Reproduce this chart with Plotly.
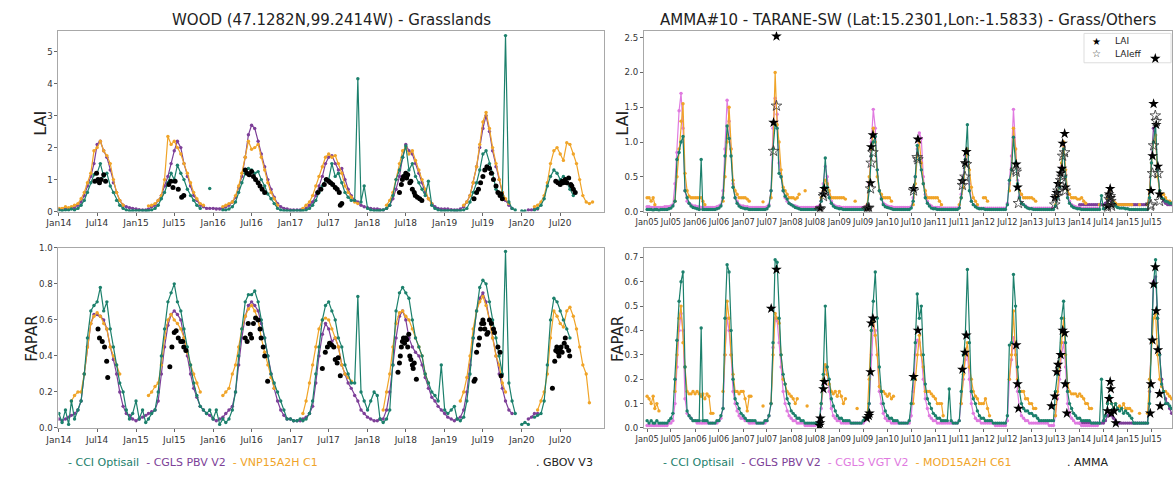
import datetime as dt
import plotly.graph_objects as go

N = None
W, H = 1174, 479
TEAL, PURPLE, ORANGE, VIOLET = '#1c806c', '#7d3f98', '#f0a428', '#e07ae0'

# ---------------- WOOD site: semi-monthly values (1st, 16th of each month) ----------------
wood_years = [2014, 2015, 2016, 2017, 2018, 2019, 2020]
wood_lai_cci = [
    [0.05,0.03,0.05,0.05,0.08,0.05,0.1,0.2,0.35,0.6,0.9,1.15,1.2,1.5,1.1,1.2,0.8,0.6,0.35,0.2,0.1,0.05,0.03,0.03],
    [0.03,0.03,0.03,0.03,0.03,0.05,0.1,0.2,0.4,0.6,0.9,1.2,1.0,1.45,1.2,1.0,0.7,0.5,0.35,0.2,0.1,N,N,0.72],
    [N,N,N,0.05,0.05,0.08,0.15,0.3,0.6,0.9,1.2,1.35,1.3,1.2,1.25,1.0,0.8,0.55,0.4,0.25,0.1,0.05,0.03,0.03],
    [0.03,0.03,0.03,0.03,0.03,0.05,0.1,0.2,0.35,0.6,0.8,1.0,1.0,1.5,1.1,1.2,0.9,0.6,0.45,0.35,0.35,4.15,0.3,0.8],
    [0.1,0.05,0.03,0.03,0.03,0.05,0.1,0.2,0.5,1.0,1.3,1.7,2.05,1.3,1.5,1.1,0.9,0.7,0.5,0.95,0.2,0.1,0.05,0.03],
    [0.03,0.03,0.03,0.03,0.03,0.03,0.05,0.1,0.3,0.6,0.9,1.3,1.8,1.9,1.5,1.2,0.7,0.6,0.5,5.5,0.3,0.1,0.05,N],
    [0.02,0.02,N,N,0.05,0.1,0.2,0.4,0.8,1.1,1.3,1.2,1.0,1.1,0.9,0.7,0.5,N,N,N,N,N,N,N],
]
wood_lai_pbv = [
    [0.08,0.08,0.08,0.1,0.1,0.12,0.2,0.3,0.5,0.8,1.1,1.5,2.1,2.2,1.9,1.7,1.3,0.9,0.6,0.35,0.2,0.15,0.12,0.1],
    [0.08,0.06,0.05,0.05,0.08,0.15,0.2,0.35,0.5,0.8,1.1,1.5,1.9,2.2,2.0,1.5,1.1,0.8,0.5,0.35,0.2,0.15,0.1,0.1],
    [0.1,0.08,0.08,0.1,0.15,0.2,0.3,0.45,0.75,1.1,1.7,2.4,2.7,2.6,2.2,1.8,1.4,1.0,0.7,0.45,0.25,0.15,0.1,0.08],
    [0.05,0.05,0.05,0.05,0.08,0.1,0.2,0.3,0.5,0.8,1.1,1.5,1.7,1.75,1.5,1.3,1.35,1.0,0.7,0.5,0.35,0.3,0.2,0.15],
    [0.12,0.1,0.08,0.08,0.06,0.05,0.1,0.2,0.4,0.7,1.1,1.7,2.1,1.9,1.8,1.5,1.2,0.9,0.6,0.4,0.25,0.15,0.1,0.08],
    [0.08,0.08,0.06,0.05,0.05,0.08,0.15,0.3,0.5,0.9,1.4,2.0,2.6,3.0,2.5,1.9,1.4,1.0,0.6,0.35,0.2,0.1,N,N],
    [N,N,0.05,0.05,0.08,0.08,N,N,N,N,N,N,N,N,N,N,N,N,N,N,N,N,N,N],
]
wood_lai_vnp = [
    [0.1,0.1,0.15,0.12,0.15,0.2,0.25,0.4,0.6,0.9,1.2,1.9,2.0,2.2,1.9,1.75,1.5,1.0,0.6,0.35,0.2,N,N,N],
    [N,N,N,N,0.18,0.2,0.25,0.35,0.5,1.0,2.35,2.1,2.2,2.0,1.8,1.5,1.2,0.9,0.6,0.4,0.25,0.2,N,N],
    [N,N,N,0.15,0.2,0.25,0.3,0.5,0.8,1.2,1.7,2.2,1.95,2.0,2.1,1.7,1.3,0.9,0.6,0.4,0.2,N,N,N],
    [N,N,N,N,0.1,0.2,0.3,0.5,0.8,1.1,1.4,1.7,1.8,1.7,1.75,1.5,1.2,0.8,0.6,0.45,0.3,0.25,N,N],
    [N,N,N,N,N,N,0.2,0.35,0.6,1.0,1.5,1.9,2.0,1.8,1.9,1.6,1.3,1.0,0.7,0.4,0.25,N,N,N],
    [N,N,N,N,N,N,0.2,0.3,0.5,0.9,1.4,2.1,2.8,3.1,2.6,2.0,1.5,1.0,0.6,0.4,0.25,N,N,N],
    [N,N,N,N,0.15,0.2,0.3,0.5,0.9,1.5,1.9,2.0,1.8,1.6,2.15,2.1,1.8,1.5,1.0,0.5,0.3,0.25,0.3,N],
]
wood_fapar_cci = [
    [0.08,0.03,0.1,0.02,0.15,0.05,0.1,0.15,0.3,0.5,0.65,0.68,0.7,0.78,0.65,0.7,0.55,0.45,0.35,0.25,0.2,0.1,0.05,0.08],
    [0.15,0.05,0.1,0.03,0.05,0.08,0.1,0.2,0.4,0.55,0.7,0.75,0.8,0.7,0.65,0.55,0.45,0.35,0.25,0.18,0.12,0.1,0.08,0.1],
    [0.05,0.1,0.02,0.05,0.03,0.05,0.1,0.2,0.4,0.55,0.7,0.74,0.74,0.76,0.7,0.6,0.5,0.4,0.3,0.25,0.2,0.15,0.1,0.05],
    [0.05,0.04,0.04,0.05,0.04,0.05,0.08,0.15,0.3,0.45,0.6,0.68,0.7,0.65,0.6,0.5,0.45,0.35,0.3,0.25,0.25,0.73,0.2,0.15],
    [0.1,0.15,0.2,0.18,0.05,0.03,0.05,0.1,0.35,0.65,0.75,0.78,0.75,0.72,0.6,0.5,0.45,0.4,0.3,0.25,0.2,0.18,0.15,0.35],
    [0.1,0.08,0.1,0.12,0.05,0.04,0.06,0.15,0.3,0.5,0.65,0.78,0.82,0.8,0.7,0.6,0.5,0.4,0.3,0.98,0.25,0.15,0.08,N],
    [0.02,0.03,0.02,N,0.06,0.07,0.08,0.15,0.35,0.6,0.72,0.7,0.65,0.6,0.55,0.5,N,N,N,N,N,N,N,N],
]
wood_fapar_pbv = [
    [0.05,0.04,0.05,0.06,0.07,0.08,0.1,0.15,0.3,0.45,0.58,0.63,0.63,0.62,0.6,0.55,0.45,0.38,0.3,0.2,0.12,0.08,0.07,0.05],
    [0.04,0.05,0.06,0.07,0.08,0.09,0.1,0.15,0.3,0.45,0.57,0.63,0.65,0.63,0.6,0.5,0.4,0.3,0.22,0.17,0.12,0.1,0.08,0.07],
    [0.05,0.04,0.05,0.06,0.08,0.1,0.12,0.2,0.35,0.5,0.62,0.68,0.7,0.68,0.65,0.58,0.5,0.4,0.3,0.22,0.15,0.1,0.07,0.05],
    [0.05,0.04,0.04,0.04,0.05,0.06,0.08,0.12,0.25,0.4,0.52,0.58,0.55,0.48,0.5,0.45,0.35,0.3,0.25,0.22,0.18,0.15,0.1,0.08],
    [0.06,0.05,0.04,0.04,0.05,0.05,0.1,0.2,0.35,0.5,0.62,0.65,0.6,0.5,0.45,0.42,0.4,0.35,0.28,0.22,0.17,0.15,0.12,0.1],
    [0.08,0.06,0.05,0.04,0.05,0.06,0.1,0.2,0.35,0.5,0.65,0.72,0.75,0.7,0.6,0.5,0.4,0.3,0.22,0.15,0.1,0.08,N,N],
    [N,N,0.05,0.06,0.08,0.08,N,N,N,N,N,N,N,N,N,N,N,N,N,N,N,N,N,N],
]
wood_fapar_vnp = [
    [N,N,N,N,0.15,0.18,0.2,0.2,0.3,0.45,0.58,0.62,0.64,0.62,0.58,0.55,0.45,0.4,0.35,0.3,N,N,N,N],
    [N,N,N,N,0.18,0.2,0.23,0.25,0.35,0.5,0.6,0.63,0.6,0.58,0.55,0.5,0.42,0.35,0.3,0.25,0.2,N,N,N],
    [N,N,N,0.18,0.2,0.22,0.3,0.35,0.45,0.55,0.62,0.66,0.68,0.65,0.6,0.5,0.42,0.35,0.28,0.22,N,N,N,N],
    [N,N,N,N,0.08,0.15,0.25,0.35,0.45,0.55,0.6,0.61,0.6,0.55,0.5,0.45,0.35,0.3,0.28,0.26,N,N,N,N],
    [N,N,N,N,N,0.1,0.2,0.3,0.45,0.58,0.64,0.65,0.62,0.6,0.55,0.5,0.45,0.4,0.3,0.25,N,N,N,N],
    [N,N,N,N,N,0.15,0.2,0.28,0.4,0.55,0.65,0.7,0.73,0.68,0.6,0.5,0.4,0.35,0.25,0.2,N,N,N,N],
    [N,N,N,N,N,0.1,0.15,0.2,0.3,0.5,0.65,0.62,0.58,0.56,0.65,0.67,0.62,0.55,0.45,0.35,0.3,0.14,N,N],
]
gbov_lai_dates = [
    '2014-06-20','2014-06-28','2014-07-05','2014-07-12','2014-07-20','2014-08-01','2014-08-10',
    '2015-06-05','2015-06-15','2015-06-25','2015-07-05','2015-07-20','2015-08-05','2015-08-15',
    '2016-06-01','2016-06-10','2016-06-20','2016-07-01','2016-07-10','2016-07-20','2016-08-01','2016-08-10','2016-08-20','2016-09-01',
    '2017-05-10','2017-05-25','2017-06-10','2017-06-20','2017-07-01','2017-07-10','2017-07-20','2017-08-01','2017-08-10','2017-08-20','2017-08-25','2017-09-01',
    '2018-06-01','2018-06-10','2018-06-15','2018-06-20','2018-07-01','2018-07-05','2018-07-10','2018-07-20','2018-07-25','2018-08-01','2018-08-10','2018-08-15','2018-08-25','2018-09-05','2018-09-15',
    '2019-05-20','2019-06-01','2019-06-10','2019-06-20','2019-07-01','2019-07-10','2019-07-20','2019-08-01','2019-08-10','2019-08-20','2019-09-01','2019-09-10','2019-09-20','2019-09-25','2019-10-01',
    '2020-06-10','2020-06-20','2020-07-01','2020-07-10','2020-07-15','2020-07-25','2020-08-01','2020-08-10','2020-08-20','2020-08-25','2020-09-01','2020-09-10']
gbov_lai_vals = [
    0.95,1.2,1.0,0.9,1.0,1.15,0.95,
    0.85,0.95,0.75,0.95,0.7,0.45,0.5,
    1.3,1.2,1.15,1.25,1.1,1.0,0.9,0.8,0.7,0.6,
    0.6,0.7,0.85,1.0,0.95,0.9,0.85,0.75,0.7,0.6,0.2,0.25,
    0.6,0.85,1.0,1.1,1.2,1.05,1.15,0.9,0.95,0.7,0.6,0.5,0.45,0.4,0.35,
    0.4,0.6,0.7,0.9,1.1,1.3,1.4,1.35,1.2,1.0,0.8,0.6,0.5,0.55,0.4,
    0.95,0.9,0.85,0.95,0.9,1.0,0.9,1.05,0.85,0.8,0.7,0.6]
gbov_fapar_dates = [
    '2014-07-05','2014-07-12','2014-07-25','2014-08-05','2014-08-15','2014-08-20',
    '2015-06-10','2015-06-20','2015-07-01','2015-07-10','2015-07-20','2015-08-01','2015-08-10','2015-08-15','2015-08-25',
    '2016-06-01','2016-06-10','2016-06-15','2016-06-25','2016-07-01','2016-07-10','2016-07-20','2016-08-01','2016-08-10','2016-08-15','2016-08-25','2016-09-01','2016-09-15',
    '2017-06-01','2017-06-15','2017-06-25','2017-07-05','2017-07-15','2017-07-25','2017-08-01','2017-08-10','2017-08-15','2017-08-25',
    '2018-05-25','2018-06-01','2018-06-05','2018-06-10','2018-06-15','2018-06-20','2018-06-25','2018-07-01','2018-07-05','2018-07-10','2018-07-15','2018-07-20','2018-07-25','2018-08-01','2018-08-05','2018-08-10','2018-08-20',
    '2019-05-20','2019-05-25','2019-06-01','2019-06-10','2019-06-15','2019-06-20','2019-06-25','2019-07-01','2019-07-05','2019-07-10','2019-07-20','2019-07-25','2019-08-01','2019-08-10','2019-08-20','2019-08-25','2019-09-10','2019-09-20','2019-09-25',
    '2020-05-25','2020-06-05','2020-06-10','2020-06-15','2020-06-20','2020-06-25','2020-07-01','2020-07-05','2020-07-10','2020-07-20','2020-07-25','2020-08-01','2020-08-10','2020-08-15']
gbov_fapar_vals = [
    0.55,0.5,0.48,0.45,0.37,0.28,
    0.34,0.45,0.53,0.54,0.5,0.48,0.48,0.45,0.43,
    0.5,0.48,0.58,0.52,0.5,0.58,0.61,0.6,0.55,0.5,0.45,0.4,0.26,
    0.33,0.42,0.45,0.47,0.46,0.45,0.38,0.36,0.39,0.29,
    0.31,0.36,0.4,0.45,0.48,0.5,0.47,0.5,0.49,0.45,0.52,0.4,0.38,0.35,0.33,0.36,0.27,
    0.26,0.27,0.42,0.46,0.5,0.55,0.58,0.6,0.58,0.55,0.52,0.53,0.6,0.58,0.55,0.53,0.45,0.42,0.29,
    0.22,0.37,0.43,0.45,0.42,0.4,0.43,0.45,0.42,0.47,0.5,0.45,0.43,0.4]

# ---------------- AMMA#10 site: semi-monthly values ----------------
amma_years = [2005, 2006, 2007, 2008, 2009, 2010, 2011, 2012, 2013, 2014, 2015]
amma_lai_cci = [
    [0.03,0.03,0.03,0.02,0.03,0.03,0.02,0.03,0.03,0.03,0.03,0.04,0.05,0.08,0.15,0.75,0.85,1.0,1.08,0.3,0.2,0.12,0.08,0.06],
    [0.05,0.04,0.03,0.75,0.03,0.03,0.03,0.03,0.03,0.03,0.03,0.04,0.05,0.08,0.2,0.8,1.23,1.05,0.8,0.35,0.2,0.12,0.08,0.06],
    [0.05,0.04,0.04,0.03,0.03,0.03,0.03,0.03,0.03,0.03,0.03,0.03,0.04,0.08,0.3,0.9,1.25,1.2,0.55,0.5,0.3,0.22,0.18,0.12],
    [0.1,0.08,0.06,0.05,0.04,0.03,0.03,0.03,0.03,0.03,0.03,0.03,0.03,0.04,0.05,0.15,0.35,0.77,0.35,0.2,0.12,0.08,0.06,0.05],
    [0.04,0.04,0.03,0.03,0.03,0.03,0.03,0.03,0.03,0.03,0.03,0.03,0.03,0.04,0.06,0.3,0.8,1.0,1.08,0.6,0.3,0.18,0.1,0.07],
    [0.06,0.05,0.04,0.03,0.03,0.03,0.03,0.03,0.03,0.03,0.03,0.03,0.05,0.15,0.5,0.95,0.75,0.6,0.4,0.2,0.12,0.08,0.05,0.04],
    [0.04,0.03,0.03,0.03,0.03,0.03,0.03,0.03,0.03,0.03,0.03,0.03,0.05,0.2,0.45,0.75,1.25,0.3,0.15,0.1,0.07,0.05,0.04,0.04],
    [0.04,0.03,0.03,0.03,0.03,0.03,0.03,0.03,0.03,0.03,0.03,0.03,0.1,0.45,0.6,1.07,0.7,0.4,0.2,0.12,0.1,0.07,0.05,0.04],
    [0.04,0.03,0.03,0.03,0.03,0.03,0.03,0.03,0.03,0.03,0.03,0.03,0.08,0.2,0.35,0.6,0.9,0.5,0.2,0.12,0.08,0.06,0.05,0.04],
    [0.04,0.03,0.03,0.03,0.03,0.03,0.03,0.03,0.03,0.03,0.03,0.23,0.04,0.05,0.1,0.25,0.2,0.12,0.08,0.06,0.05,0.05,0.05,0.04],
    [0.04,0.03,0.03,0.03,0.03,0.03,0.03,0.03,0.03,0.03,0.03,0.2,0.7,1.0,1.25,0.6,0.3,0.2,0.18,0.15,0.14,0.12,0.12,N],
]
amma_lai_vgt = [
    [0.07,0.07,0.06,0.06,0.06,0.06,0.06,0.06,0.06,0.07,0.07,0.07,0.08,0.1,0.4,0.85,1.45,1.7,1.2,0.3,0.15,0.12,0.1,0.08],
    [0.08,0.07,0.07,0.06,0.06,0.06,0.06,0.06,0.06,0.06,0.06,0.07,0.08,0.1,0.3,0.9,1.6,1.3,0.9,0.4,0.2,0.15,0.1,0.08],
    [0.08,0.07,0.07,0.06,0.06,0.06,0.06,0.06,0.06,0.06,0.06,0.06,0.07,0.1,0.3,1.2,1.63,1.4,0.7,0.5,0.3,0.2,0.15,0.12],
    [0.1,0.09,0.08,0.07,0.06,0.06,0.06,0.06,0.06,0.06,0.06,0.06,0.06,0.07,0.08,0.15,0.4,0.65,0.5,0.25,0.15,0.1,0.08,0.07],
    [0.07,0.06,0.06,0.06,0.06,0.06,0.06,0.06,0.06,0.06,0.06,0.06,0.06,0.07,0.1,0.4,1.0,1.47,1.2,0.6,0.3,0.2,0.12,0.1],
    [0.08,0.07,0.07,0.06,0.06,0.06,0.06,0.06,0.06,0.06,0.06,0.06,0.07,0.2,0.5,0.9,1.13,1.05,0.5,0.25,0.15,0.1,0.08,0.06],
    [0.06,0.06,0.06,0.05,0.05,0.05,0.05,0.05,0.05,0.05,0.05,0.05,0.06,0.25,0.5,0.8,0.9,0.4,0.15,0.1,0.08,0.06,0.05,0.05],
    [0.05,0.05,0.05,0.05,0.05,0.05,0.05,0.05,0.05,0.05,0.05,0.05,0.12,0.4,0.8,1.47,0.9,0.45,0.22,0.12,0.1,0.08,0.06,0.05],
    [0.05,0.05,0.05,0.05,0.05,0.05,0.05,0.05,0.05,0.05,0.05,0.05,0.08,0.25,0.4,0.65,0.95,0.6,0.25,0.15,0.1,0.08,0.07,0.06],
    [0.06,0.05,0.05,0.05,0.05,0.05,0.05,0.05,0.05,0.05,N,N,N,N,N,N,N,N,N,N,N,N,N,N],
    [N,N,N,N,N,N,N,N,N,N,N,N,N,N,N,N,N,N,N,N,N,N,N,N],
]
amma_lai_pbv = [
    [N]*24, [N]*24, [N]*24, [N]*24, [N]*24, [N]*24, [N]*24, [N]*24, [N]*24,
    [0.1,0.1,0.1,0.1,0.1,0.1,0.1,0.1,0.1,0.1,0.1,0.1,0.1,0.12,0.15,0.2,0.15,0.12,0.1,0.1,0.1,0.1,0.1,0.1],
    [0.1,0.1,0.1,0.1,0.1,0.1,0.1,0.1,0.1,0.1,0.1,0.3,0.8,1.2,1.1,0.6,0.3,0.2,0.15,0.12,0.1,0.1,0.1,N],
]
amma_lai_mod = [
    [0.2,0.2,0.15,0.2,0.1,N,N,N,N,N,N,N,N,N,0.15,0.5,0.9,1.3,1.55,0.55,0.3,0.22,0.2,0.2],
    [0.2,0.2,0.2,0.2,0.15,0.1,N,N,N,N,N,N,N,N,0.15,0.5,1.0,1.5,0.9,0.45,0.3,0.25,0.2,0.2],
    [0.2,0.2,0.18,0.15,N,N,N,N,N,N,0.14,N,N,N,0.2,0.9,2.0,1.25,1.0,0.6,0.35,0.3,0.25,0.2],
    [0.2,0.2,0.18,0.2,0.25,N,N,0.3,N,N,N,N,N,N,N,0.2,0.3,0.45,0.4,0.3,0.2,0.2,0.2,0.2],
    [0.2,0.2,0.2,0.18,N,N,N,N,0.15,N,N,N,N,N,0.1,0.5,0.9,1.2,1.0,0.5,0.3,0.25,0.2,0.2],
    [0.2,0.2,0.15,N,N,N,N,N,N,N,N,N,N,0.1,0.4,0.8,1.0,0.7,0.4,0.3,0.2,0.2,0.2,0.2],
    [0.2,0.2,0.15,0.1,N,N,N,N,N,N,N,N,0.1,0.2,0.35,0.7,0.9,0.6,0.35,0.2,0.15,0.1,N,N],
    [0.2,0.2,0.15,N,N,N,N,N,N,N,N,N,N,0.3,0.6,1.2,0.9,0.35,0.3,0.25,0.2,0.2,0.2,0.2],
    [0.2,0.18,0.15,N,N,N,N,N,N,N,N,N,0.1,0.25,0.4,0.7,1.0,0.6,0.3,0.25,0.2,0.2,0.2,0.18],
    [0.18,0.2,0.15,0.12,N,N,N,N,N,N,0.1,N,N,N,0.2,0.3,0.2,0.15,0.12,0.1,0.1,0.1,0.1,0.1],
    [0.1,0.1,0.1,N,N,N,0.1,N,N,N,0.1,0.3,0.7,1.0,1.1,0.5,0.3,0.25,0.25,0.2,0.15,0.15,0.12,N],
]
amma_fapar_cci = [
    [0.03,0.02,0.03,0.02,0.02,0.03,0.02,0.02,0.02,0.02,0.02,0.03,0.04,0.06,0.2,0.36,0.52,0.6,0.64,0.25,0.07,0.05,0.04,0.03],
    [0.03,0.03,0.03,0.41,0.03,0.03,0.03,0.02,0.02,0.02,0.02,0.03,0.03,0.05,0.08,0.45,0.67,0.64,0.4,0.2,0.12,0.1,0.08,0.06],
    [0.05,0.04,0.03,0.03,0.03,0.03,0.03,0.02,0.02,0.02,0.02,0.03,0.03,0.05,0.1,0.35,0.69,0.68,0.45,0.3,0.22,0.18,0.12,0.1],
    [0.07,0.06,0.05,0.04,0.04,0.03,0.03,0.02,0.02,0.02,0.02,0.02,0.02,0.02,0.03,0.1,0.22,0.5,0.25,0.2,0.12,0.09,0.07,0.05],
    [0.04,0.04,0.03,0.03,0.03,0.03,0.02,0.02,0.02,0.02,0.02,0.02,0.03,0.04,0.05,0.1,0.4,0.52,0.64,0.45,0.25,0.15,0.1,0.07],
    [0.05,0.04,0.04,0.03,0.03,0.03,0.02,0.02,0.02,0.02,0.02,0.03,0.1,0.2,0.35,0.55,0.45,0.5,0.3,0.18,0.12,0.1,0.08,0.06],
    [0.05,0.04,0.04,0.03,0.03,0.03,0.03,0.16,0.03,0.02,0.02,0.02,0.03,0.15,0.3,0.38,0.65,0.35,0.15,0.12,0.1,0.07,0.05,0.04],
    [0.04,0.03,0.03,0.03,0.03,0.02,0.02,0.02,0.02,0.02,0.02,0.02,0.05,0.34,0.35,0.63,0.5,0.25,0.15,0.1,0.08,0.07,0.07,0.06],
    [0.06,0.05,0.05,0.04,0.03,0.03,0.03,0.03,0.03,0.03,0.03,0.03,0.15,0.22,0.3,0.45,0.52,0.35,0.15,0.1,0.08,0.06,0.05,0.04],
    [0.04,0.03,0.03,0.03,0.03,0.03,0.02,0.02,0.02,0.02,0.02,0.2,0.03,0.05,0.1,0.13,0.1,0.08,0.1,0.08,0.07,0.08,0.06,0.07],
    [0.06,0.05,0.04,0.02,0.02,0.02,0.02,0.02,0.02,0.02,0.02,0.1,0.36,0.59,0.69,0.45,0.3,0.18,0.15,0.1,0.1,0.09,0.08,N],
]
amma_fapar_vgt = [
    [0.01,0.01,0.01,0.01,0.01,0.01,0.01,0.01,0.01,0.01,0.01,0.02,0.02,0.03,0.1,0.25,0.4,0.47,0.4,0.12,0.06,0.05,0.04,0.03],
    [0.03,0.02,0.02,0.02,0.02,0.02,0.02,0.02,0.02,0.02,0.02,0.02,0.03,0.04,0.08,0.3,0.45,0.4,0.3,0.15,0.1,0.07,0.05,0.04],
    [0.04,0.03,0.03,0.02,0.02,0.02,0.02,0.02,0.02,0.02,0.02,0.02,0.03,0.05,0.1,0.33,0.45,0.44,0.35,0.25,0.15,0.1,0.07,0.05],
    [0.04,0.03,0.03,0.02,0.02,0.02,0.02,0.01,0.01,0.01,0.01,0.01,0.01,0.02,0.03,0.08,0.18,0.25,0.22,0.15,0.08,0.05,0.04,0.03],
    [0.03,0.02,0.02,0.02,0.02,0.02,0.02,0.02,0.02,0.02,0.02,0.02,0.02,0.03,0.05,0.1,0.3,0.42,0.4,0.3,0.15,0.1,0.06,0.04],
    [0.03,0.03,0.02,0.02,0.02,0.02,0.02,0.02,0.02,0.02,0.02,0.02,0.05,0.15,0.3,0.36,0.35,0.3,0.2,0.12,0.08,0.05,0.04,0.03],
    [0.03,0.02,0.02,0.02,0.02,0.02,0.02,0.02,0.02,0.02,0.02,0.02,0.03,0.1,0.2,0.28,0.31,0.2,0.1,0.06,0.04,0.03,0.03,0.02],
    [0.02,0.02,0.02,0.02,0.02,0.02,0.01,0.01,0.01,0.01,0.01,0.01,0.03,0.2,0.28,0.37,0.3,0.15,0.08,0.05,0.04,0.03,0.03,0.02],
    [0.02,0.02,0.02,0.02,0.02,0.02,0.02,0.02,0.02,0.01,0.01,0.01,0.05,0.12,0.2,0.3,0.35,0.25,0.1,0.06,0.04,0.03,0.02,0.02],
    [0.02,0.01,0.01,0.01,0.01,0.01,0.01,0.01,0.01,0.01,N,N,N,N,N,N,N,N,N,N,N,N,N,N],
    [N,N,N,N,N,N,N,N,N,N,N,N,N,N,N,N,N,N,N,N,N,N,N,N],
]
amma_fapar_pbv = [
    [N]*24, [N]*24, [N]*24, [N]*24, [N]*24, [N]*24, [N]*24, [N]*24, [N]*24,
    [0.02,0.02,0.02,0.02,0.02,0.02,0.02,0.02,0.02,0.02,0.02,0.02,0.02,0.03,0.05,0.06,0.05,0.04,0.03,0.02,0.02,0.02,0.02,0.02],
    [0.02,0.02,0.02,0.02,0.02,0.02,0.02,0.02,0.02,0.02,0.02,0.15,0.35,0.6,0.62,0.45,0.3,0.2,0.15,0.12,0.1,0.08,0.06,N],
]
amma_fapar_mod = [
    [0.13,0.12,0.1,0.13,0.08,0.1,0.07,N,N,N,N,N,N,N,0.15,0.3,0.45,0.5,0.35,0.25,0.15,0.14,0.14,0.15],
    [0.14,0.15,0.14,0.13,0.14,0.12,0.14,0.13,0.06,0.06,N,N,N,N,0.15,0.3,0.52,0.45,0.3,0.22,0.15,0.15,0.14,0.15],
    [0.15,0.12,0.07,0.13,0.13,N,N,N,N,N,0.09,N,N,N,0.1,0.3,0.47,0.45,0.43,0.3,0.2,0.18,0.15,0.14],
    [0.13,0.12,0.1,0.12,N,N,N,N,0.09,N,N,N,N,N,N,0.1,0.2,0.26,0.22,0.18,0.15,0.14,0.15,0.13],
    [0.15,0.13,0.1,0.12,N,N,N,N,N,0.08,N,N,N,N,0.05,0.2,0.4,0.45,0.38,0.3,0.17,0.15,0.15,0.14],
    [0.13,0.14,0.12,0.13,N,N,N,N,N,N,N,N,N,0.1,0.2,0.3,0.38,0.3,0.25,0.15,0.15,0.15,0.14,0.13],
    [0.12,0.1,0.1,0.1,0.05,N,N,N,N,N,N,N,N,0.1,0.22,0.3,0.35,0.25,0.2,0.15,0.13,0.12,0.1,0.1],
    [0.1,0.12,0.08,0.05,N,N,N,N,N,N,N,N,N,0.2,0.3,0.48,0.3,0.2,0.15,0.15,0.15,0.12,0.12,0.1],
    [0.1,0.08,0.08,N,N,N,N,N,N,N,N,N,0.05,0.15,0.25,0.35,0.45,0.3,0.18,0.15,0.14,0.14,0.14,0.13],
    [0.14,0.13,0.12,0.1,0.1,0.08,0.08,N,N,N,N,N,N,N,0.1,0.12,0.1,0.08,0.1,0.08,0.09,0.08,0.1,0.08],
    [0.08,0.08,0.07,N,N,N,0.06,N,N,N,0.06,0.2,0.35,0.45,0.47,0.3,0.2,0.17,0.15,0.15,0.14,0.13,0.12,N],
]
amma_lai_dates = ['2007-08-20','2007-09-11','2008-08-08','2008-09-02','2008-09-09','2009-07-29','2009-08-13','2009-08-26','2009-08-31','2009-09-13',
    '2010-07-19','2010-08-21','2011-07-25','2011-08-14','2011-08-24','2012-09-06','2012-09-16',
    '2013-06-26','2013-07-11','2013-07-21','2013-08-10','2013-08-20','2013-08-25','2013-09-09','2013-09-14',
    '2014-08-01','2014-08-13','2014-08-21','2014-08-26','2014-08-31',
    '2015-06-27','2015-07-09','2015-07-17','2015-07-30','2015-08-06','2015-08-19','2015-08-31']
amma_lai_vals = [1.28,2.52,0.05,0.25,0.33,0.05,0.06,0.41,0.93,1.10,
    0.33,1.04,0.44,0.70,0.86,0.68,0.35,
    0.20,0.27,0.40,0.55,0.62,0.98,1.12,0.35,
    0.08,0.25,0.33,0.20,0.10,
    0.30,0.80,1.55,2.20,1.25,0.65,0.25]
amma_laieff_dates = ['2007-08-20','2007-09-11','2008-08-03','2008-08-10','2008-09-02','2009-07-29','2009-08-13','2009-08-26','2009-08-31','2009-09-13',
    '2010-07-19','2010-08-15','2010-08-21','2011-07-25','2011-08-14','2011-08-24','2012-09-03','2012-09-06','2012-09-23',
    '2013-06-26','2013-07-11','2013-07-21','2013-08-10','2013-08-20','2013-08-25','2013-09-09','2013-09-14',
    '2014-08-01','2014-08-13','2014-08-21','2014-08-26','2014-08-31',
    '2015-06-22','2015-06-27','2015-07-09','2015-07-17','2015-07-30','2015-08-06','2015-08-19','2015-08-31']
amma_laieff_vals = [0.87,1.52,0.02,0.04,0.22,0.03,0.05,0.33,0.70,0.85,
    0.30,0.78,0.75,0.38,0.50,0.68,0.60,0.57,0.12,
    0.10,0.22,0.30,0.45,0.50,0.80,0.85,0.30,
    0.06,0.18,0.22,0.15,0.08,
    0.08,0.10,0.55,0.95,1.38,1.30,0.55,0.15]
amma_fapar_dates = ['2007-08-02','2007-09-11','2008-08-03','2008-08-08','2008-08-10','2008-09-02','2008-09-09',
    '2009-07-29','2009-08-13','2009-08-18','2009-08-26','2009-08-31','2009-09-13','2010-07-19','2010-08-21',
    '2011-07-25','2011-08-14','2011-08-24','2012-09-06','2012-09-16','2012-09-23',
    '2013-06-01','2013-06-26','2013-07-11','2013-07-21','2013-08-10','2013-08-25','2013-09-09','2013-09-14','2013-09-26',
    '2014-08-01','2014-08-13','2014-08-21','2014-08-26','2014-08-31','2014-09-20','2014-10-03',
    '2015-06-22','2015-06-27','2015-07-09','2015-07-17','2015-07-30','2015-08-06','2015-08-19','2015-08-31','2015-09-05']
amma_fapar_vals = [0.49,0.65,0.01,0.02,0.04,0.16,0.19,
    0.04,0.05,0.06,0.23,0.43,0.45,0.21,0.40,
    0.24,0.31,0.38,0.34,0.18,0.08,
    0.09,0.13,0.23,0.26,0.30,0.40,0.39,0.18,0.06,
    0.07,0.12,0.19,0.16,0.06,0.07,0.02,
    0.06,0.18,0.36,0.59,0.66,0.48,0.32,0.14,0.09]

wood_ticks = [f'{m}{y % 100:02d}' for y in wood_years for m in ('Jan', 'Jul')]
amma_ticks = [f'{m}{y % 100:02d}' for y in amma_years for m in ('Jan', 'Jul')]


def half_month_dates(years):
    return [dt.date(y, m, d) for y in years for m in range(1, 13) for d in (1, 16)]


def flat(rows):
    out = []
    for r in rows:
        assert len(r) == 24
        out.extend(r)
    return out


def tick_dates(years):
    return [dt.date(y, m, 1) for y in years for m in (1, 7)]


fig = go.Figure()


def series(x, rows, color, xa, ya, size=3.4, width=1.2):
    fig.add_trace(go.Scatter(x=x, y=flat(rows), mode='lines+markers', connectgaps=False,
                             line=dict(color=color, width=width), marker=dict(color=color, size=size),
                             xaxis=xa, yaxis=ya, showlegend=False, hoverinfo='skip'))


wx = half_month_dates(wood_years)
ax = half_month_dates(amma_years)

# WOOD LAI (top-left)
series(wx, wood_lai_pbv, PURPLE, 'x', 'y')
series(wx, wood_lai_vnp, ORANGE, 'x', 'y')
series(wx, wood_lai_cci, TEAL, 'x', 'y')
fig.add_trace(go.Scatter(x=gbov_lai_dates, y=gbov_lai_vals, mode='markers', marker=dict(color='black', size=5),
                         xaxis='x', yaxis='y', showlegend=False))
# WOOD FAPAR (bottom-left)
series(wx, wood_fapar_pbv, PURPLE, 'x2', 'y2')
series(wx, wood_fapar_vnp, ORANGE, 'x2', 'y2')
series(wx, wood_fapar_cci, TEAL, 'x2', 'y2')
fig.add_trace(go.Scatter(x=gbov_fapar_dates, y=gbov_fapar_vals, mode='markers', marker=dict(color='black', size=5),
                         xaxis='x2', yaxis='y2', showlegend=False))
# AMMA LAI (top-right)
series(ax, amma_lai_pbv, PURPLE, 'x3', 'y3')
series(ax, amma_lai_vgt, VIOLET, 'x3', 'y3')
series(ax, amma_lai_mod, ORANGE, 'x3', 'y3')
series(ax, amma_lai_cci, TEAL, 'x3', 'y3')
fig.add_trace(go.Scatter(x=amma_lai_dates, y=amma_lai_vals, mode='markers', showlegend=False,
                         marker=dict(symbol='star', color='black', size=8), xaxis='x3', yaxis='y3'))
fig.add_trace(go.Scatter(x=amma_laieff_dates, y=amma_laieff_vals, mode='markers', showlegend=False,
                         marker=dict(symbol='star-open', color='#333', size=8, line=dict(width=0.8)),
                         xaxis='x3', yaxis='y3'))
# AMMA FAPAR (bottom-right)
series(ax, amma_fapar_pbv, PURPLE, 'x4', 'y4')
series(ax, amma_fapar_vgt, VIOLET, 'x4', 'y4')
series(ax, amma_fapar_mod, ORANGE, 'x4', 'y4')
series(ax, amma_fapar_cci, TEAL, 'x4', 'y4')
fig.add_trace(go.Scatter(x=amma_fapar_dates, y=amma_fapar_vals, mode='markers', showlegend=False,
                         marker=dict(symbol='star', color='black', size=8), xaxis='x4', yaxis='y4'))

LX = [46 / W, 598 / W]
RX = [638 / W, 1172 / W]
TY = [1 - 211 / H, 1 - 27 / H]
BY = [1 - 432 / H, 1 - 248 / H]
FONT = 'DejaVu Sans'
frame = dict(showline=True, mirror=True, linecolor='#a8a8a8', linewidth=1, showgrid=False, zeroline=False,
             ticks='outside', ticklen=3, tickcolor='#666', tickfont=dict(family=FONT, size=8.6, color='#333'))


def xax(domain, anchor, years, labels, rng, size):
    d = dict(frame, domain=domain, anchor=anchor, type='date', range=rng, tickangle=0,
             tickmode='array', tickvals=tick_dates(years), ticktext=labels)
    d['tickfont'] = dict(family=FONT, size=size, color='#333')
    return d


def yax(domain, anchor, rng, dtick, fmt):
    return dict(frame, domain=domain, anchor=anchor, range=rng, dtick=dtick, tick0=0, tickformat=fmt)


fig.update_layout(
    width=W, height=H, margin=dict(l=0, r=0, t=0, b=0), showlegend=False,
    paper_bgcolor='white', plot_bgcolor='white', font=dict(family=FONT, color='#222'),
    xaxis=xax(LX, 'y', wood_years, wood_ticks, ['2013-12-30', '2021-01-26'], 9),
    yaxis=yax(TY, 'x', [0, 5.63], 1, 'd'),
    xaxis2=xax(LX, 'y2', wood_years, wood_ticks, ['2013-12-30', '2021-01-26'], 9),
    yaxis2=yax(BY, 'x2', [0, 1.0], 0.2, '.1f'),
    xaxis3=xax(RX, 'y3', amma_years, amma_ticks, ['2004-12-08', '2015-12-04'], 8.2),
    yaxis3=yax(TY, 'x3', [0, 2.59], 0.5, '.1f'),
    xaxis4=xax(RX, 'y4', amma_years, amma_ticks, ['2004-12-08', '2015-12-04'], 8.2),
    yaxis4=yax(BY, 'x4', [0, 0.739], 0.1, '.1f'),
)

# legend box inside the AMMA LAI panel
fig.add_shape(type='rect', xref='paper', yref='paper', x0=1083 / W, x1=1171 / W, y0=1 - 59 / H, y1=1 - 29 / H,
              line=dict(color='#dddddd', width=1), fillcolor='white', layer='below')

ann = []
ann.append(dict(text='WOOD (47.1282N,99.2414W) - Grasslands', x=(46 + 598) / 2 / W, y=1 - 15 / H,
                font=dict(size=15, color='#222')))
ann.append(dict(text='AMMA#10 - TARANE-SW (Lat:15.2301,Lon:-1.5833) - Grass/Others', x=(638 + 1172) / 2 / W,
                y=1 - 15 / H, font=dict(size=15, color='#222')))
for xp, yp, t, s in [(27.5, 121, 'LAI', 16), (19, 341, 'FAPAR', 15), (616, 121, 'LAI', 16), (612, 341, 'FAPAR', 15)]:
    ann.append(dict(text=t, x=xp / W, y=1 - yp / H, textangle=-90, font=dict(size=s, color='#222')))
ann.append(dict(text='\u2605', x=1096 / W, y=1 - 37 / H, font=dict(size=10, color='black')))
ann.append(dict(text='\u2606', x=1096 / W, y=1 - 50 / H, font=dict(size=10, color='#333')))
ann.append(dict(text='LAI', x=1112 / W, y=1 - 37 / H, xanchor='left', font=dict(size=9, color='#222')))
ann.append(dict(text='LAIeff', x=1112 / W, y=1 - 50 / H, xanchor='left', font=dict(size=9, color='#222')))


def span(c, t):
    return f'<span style="color:{c}">{t}</span>'


left_leg = span(TEAL, '- CCI Optisail') + '&nbsp;&nbsp;' + span(PURPLE, '- CGLS PBV V2') + '&nbsp;&nbsp;' + span(ORANGE, '- VNP15A2H C1')
right_leg = (span(TEAL, '- CCI Optisail') + '&nbsp;&nbsp;' + span(PURPLE, '- CGLS PBV V2') + '&nbsp;&nbsp;'
             + span(VIOLET, '- CGLS VGT V2') + '&nbsp;&nbsp;' + span(ORANGE, '- MOD15A2H C61'))
ann.append(dict(text=left_leg, x=54 / W, y=1 - 467 / H, xanchor='left', font=dict(size=11)))
ann.append(dict(text='. GBOV V3', x=527 / W, y=1 - 467 / H, xanchor='left', font=dict(size=11, color='#222')))
ann.append(dict(text=right_leg, x=655 / W, y=1 - 467 / H, xanchor='left', font=dict(size=11)))
ann.append(dict(text='. AMMA', x=1064 / W, y=1 - 467 / H, xanchor='left', font=dict(size=11, color='#222')))
for a in ann:
    a.update(xref='paper', yref='paper', showarrow=False)
    a.setdefault('xanchor', 'center')
    a['yanchor'] = 'middle'
    a['font']['family'] = FONT
fig.update_layout(annotations=ann)

fig.write_html('out.html')
